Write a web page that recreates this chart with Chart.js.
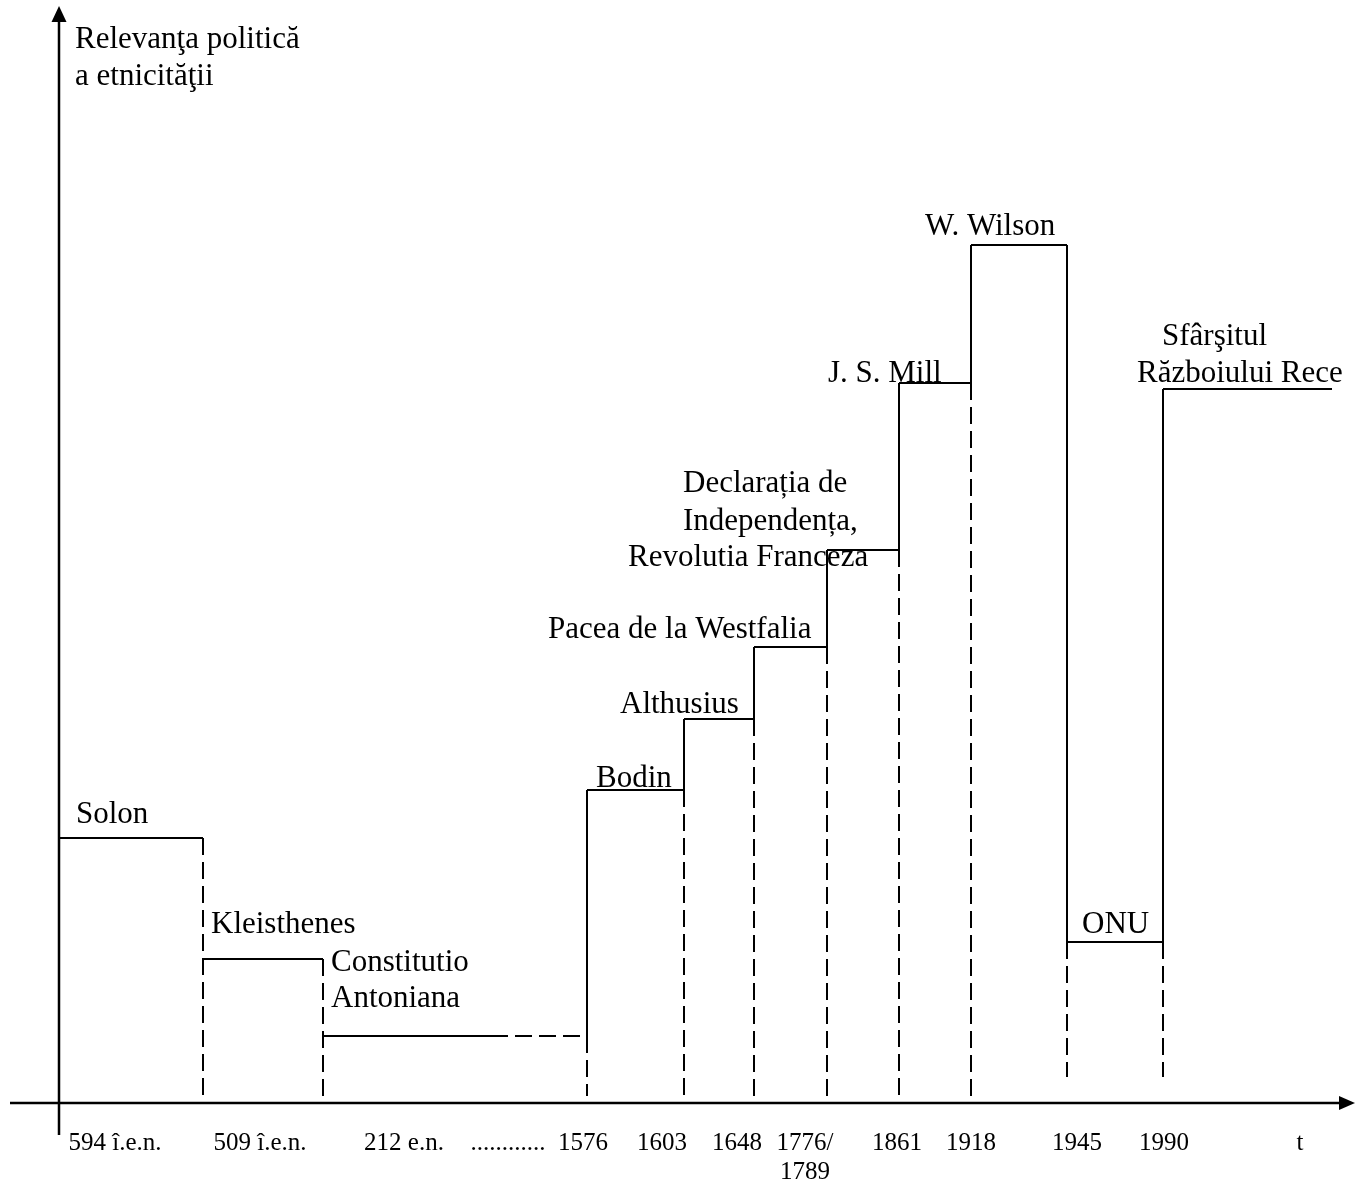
<!DOCTYPE html>
<html lang="ro">
<head>
<meta charset="utf-8">
<title>Relevanţa politică a etnicităţii</title>
<script src="https://cdn.jsdelivr.net/npm/chart.js@4.4.1/dist/chart.umd.min.js"></script>
<style>
  html, body { margin: 0; padding: 0; background: #ffffff; }
  #wrap { width: 1361px; height: 1183px; }
</style>
</head>
<body>
<div id="wrap"><canvas id="stepChart" width="1361" height="1183"></canvas></div>
<script>
/* ------------------------------------------------------------------
   DATA
   x = position along the (non-proportional) time axis, from the y axis
   y = political relevance of ethnicity, height above the time axis
   ------------------------------------------------------------------ */
var events = [
  'Solon',
  'Kleisthenes',
  'Constitutio\nAntoniana',
  'Bodin',
  'Althusius',
  'Pacea de la Westfalia',
  'Declarația de\nIndependența,\nRevolutia Franceza',
  'J. S. Mill',
  'W. Wilson',
  'ONU',
  'Sfârşitul\nRăzboiului Rece'
];
var stepStart    = [0, 144, 264, 528, 625, 695, 768, 840, 912, 1008, 1104];
var stepEnd      = [144, 264, 528, 625, 695, 768, 840, 912, 1008, 1104, 1273];
var stepSolidEnd = [144, 264, 444, 625, 695, 768, 840, 912, 1008, 1104, 1273];
var stepLevel    = [265, 144, 67, 313, 384, 456, 553, 720, 858, 161, 714];

// one entry per change between two consecutive steps
var changeSolid  = [false, false, true, true, true, true, true, true, true, true];
var dropBottom   = [7, 7, 7, 7, 7, 7, 7, 7, 26, 26];

var yearTicks   = ['594 î.e.n.', '509 î.e.n.', '212 e.n.', '............', '1576', '1603',
                   '1648', ['1776/', '1789'], '1861', '1918', '1945', '1990', 't'];
var yearTickPos = [56, 201, 345, 449, 524, 603, 678, 746, 838, 912, 1018, 1105, 1241];

var axisTitle = ['Relevanţa politică', 'a etnicităţii'];

/* ------------------------------------------------------------------
   LAYOUT (axis units) — where each event's text lines sit
   ------------------------------------------------------------------ */
var labelLayout = [
  [[17, 280]],
  [[152, 170]],
  [[272, 132], [272, 96]],
  [[537, 316]],
  [[561, 390]],
  [[489, 465]],
  [[624, 611], [624, 573], [569, 537]],
  [[769, 721]],
  [[866, 868]],
  [[1023, 170]],
  [[1103, 758], [1078, 721]]
];
var titleLayout = [[16, 1055], [16, 1018]];

var INK = '#000000';
var DASH = [17, 7];
var LABEL_FONT = '31px "Liberation Serif", "Times New Roman", serif';
var TICK_FONT  = '25px "Liberation Serif", "Times New Roman", serif';

/* ------------------------------------------------------------------
   BUILD SEGMENTS
   ------------------------------------------------------------------ */
function segment(x1, y1, x2, y2, dashed, gapFirst) {
  return {
    data: [{ x: x1, y: y1 }, { x: x2, y: y2 }],
    showLine: true,
    borderColor: INK,
    borderWidth: 2,
    borderDash: dashed ? DASH : [],
    borderDashOffset: gapFirst ? 12 : 0,
    borderCapStyle: 'butt',
    pointRadius: 0,
    pointHoverRadius: 0,
    fill: false
  };
}

function buildDatasets() {
  var sets = [];
  events.forEach(function (name, i) {
    sets.push(segment(stepStart[i], stepLevel[i], stepSolidEnd[i], stepLevel[i], false));
    if (stepSolidEnd[i] < stepEnd[i]) {
      // uncertain stretch: starts with a gap after the solid part
      sets.push(segment(stepSolidEnd[i], stepLevel[i], stepEnd[i], stepLevel[i], true, true));
    }
  });
  changeSolid.forEach(function (solid, i) {
    var x = stepEnd[i];
    var a = stepLevel[i], b = stepLevel[i + 1];
    var hi = Math.max(a, b), lo = Math.min(a, b);
    if (solid) {
      sets.push(segment(x, hi, x, lo, false));
      sets.push(segment(x, lo, x, dropBottom[i], true));
    } else {
      sets.push(segment(x, hi, x, dropBottom[i], true));
    }
  });
  return sets;
}

/* ------------------------------------------------------------------
   AXES, ARROWS AND TEXT
   ------------------------------------------------------------------ */
var drawingPlugin = {
  id: 'schemaText',
  afterDatasetsDraw: function (chart) {
    var ctx = chart.ctx;
    var xs = chart.scales.x, ys = chart.scales.y;
    var px = function (v) { return xs.getPixelForValue(v); };
    var py = function (v) { return ys.getPixelForValue(v); };

    ctx.save();
    ctx.strokeStyle = INK;
    ctx.fillStyle = INK;
    ctx.lineWidth = 2.5;

    // y axis with arrow
    var x0 = px(0);
    ctx.beginPath();
    ctx.moveTo(x0, py(-32));
    ctx.lineTo(x0, py(1083));
    ctx.stroke();
    ctx.beginPath();
    ctx.moveTo(x0, py(1097));
    ctx.lineTo(x0 - 7.5, py(1081));
    ctx.lineTo(x0 + 7.5, py(1081));
    ctx.closePath();
    ctx.fill();

    // time axis with arrow
    var y0 = py(0);
    ctx.beginPath();
    ctx.moveTo(px(-49), y0);
    ctx.lineTo(px(1282), y0);
    ctx.stroke();
    ctx.beginPath();
    ctx.moveTo(px(1296), y0);
    ctx.lineTo(px(1280), y0 - 7);
    ctx.lineTo(px(1280), y0 + 7);
    ctx.closePath();
    ctx.fill();

    // axis title
    ctx.font = LABEL_FONT;
    ctx.textAlign = 'left';
    ctx.textBaseline = 'alphabetic';
    axisTitle.forEach(function (line, i) {
      ctx.fillText(line, px(titleLayout[i][0]), py(titleLayout[i][1]));
    });

    // event labels
    events.forEach(function (name, i) {
      name.split('\n').forEach(function (line, j) {
        var at = labelLayout[i][j];
        ctx.fillText(line, px(at[0]), py(at[1]));
      });
    });

    // year tick labels
    ctx.font = TICK_FONT;
    ctx.textAlign = 'center';
    yearTicks.forEach(function (lab, i) {
      var lines = Array.isArray(lab) ? lab : [lab];
      lines.forEach(function (line, j) {
        ctx.fillText(line, px(yearTickPos[i]), py(-47 - j * 29));
      });
    });
    ctx.restore();
  }
};

new Chart(document.getElementById('stepChart'), {
  type: 'scatter',
  data: { datasets: buildDatasets() },
  options: {
    responsive: false,
    animation: false,
    events: [],
    layout: { padding: 0 },
    scales: {
      x: { type: 'linear', min: -59, max: 1302, display: false },
      y: { type: 'linear', min: -80, max: 1103, display: false }
    },
    plugins: {
      legend: { display: false },
      tooltip: { enabled: false }
    }
  },
  plugins: [drawingPlugin]
});
</script>
</body>
</html>
